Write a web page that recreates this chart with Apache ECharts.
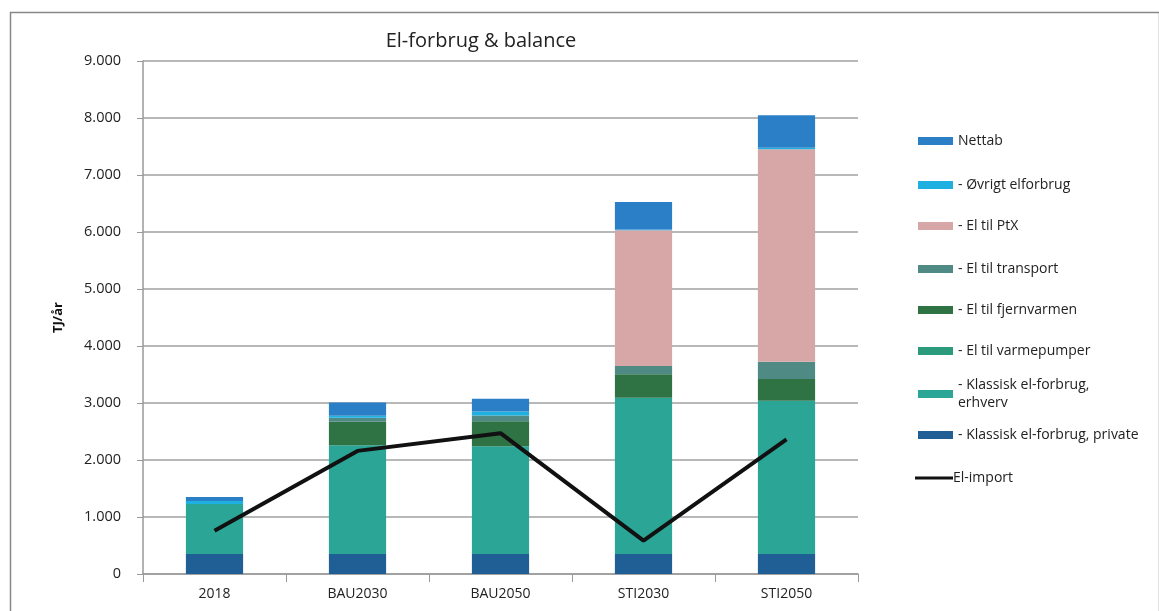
<!DOCTYPE html>
<html><head><meta charset="utf-8">
<script src="https://cdn.jsdelivr.net/npm/echarts@6/dist/echarts.min.js"></script>
<style>html,body{margin:0;padding:0;background:#fff}#c{width:1159px;height:611px}</style>
</head><body><div id="c"></div>
<script>
const categories = ['2018', 'BAU2030', 'BAU2050', 'STI2030', 'STI2050'];
const private_ = [350, 350, 350, 350, 350];
const erhverv = [880, 1910, 1890, 2740, 2690];
const varmepumper = [0, 0, 0, 0, 0];
const fjernvarme = [0, 410, 440, 415, 380];
const transport = [0, 70, 100, 145, 305];
const ptx = [0, 0, 0, 2380, 3725];
const oevrigt = [50, 35, 70, 15, 30];
const nettab = [70, 235, 225, 480, 570];
const elImport = [760, 2160, 2470, 585, 2360];
const yTicks = [0, 1000, 2000, 3000, 4000, 5000, 6000, 7000, 8000, 9000];

const FONT = 'Open Sans';
const names = {
  nettab: 'Nettab', oev: '- Øvrigt elforbrug', ptx: '- El til PtX', tr: '- El til transport',
  fj: '- El til fjernvarmen', vp: '- El til varmepumper', er: '- Klassisk el-forbrug,\nerhverv',
  pr: '- Klassisk el-forbrug, private', imp: 'El-import'
};
const colors = {
  nettab: '#2b7fc6', oev: '#1fb0e2', ptx: '#d6a7a6', tr: '#4f8a85',
  fj: '#2f7244', vp: '#2c9a7c', er: '#2aa596', pr: '#1f5f95'
};
function bar(key, data) {
  return { name: names[key], type: 'bar', stack: 'a', data: data, barWidth: '40%',
    itemStyle: { color: colors[key] }, emphasis: { disabled: true } };
}
const series = [
  bar('pr', private_), bar('er', erhverv), bar('vp', varmepumper), bar('fj', fjernvarme),
  bar('tr', transport), bar('ptx', ptx), bar('oev', oevrigt), bar('nettab', nettab),
  { name: names.imp, type: 'line', data: elImport, symbol: 'none', z: 5,
    lineStyle: { color: '#111', width: 4 }, itemStyle: { color: '#111' } }
];
const legendOrder = ['nettab', 'oev', 'ptx', 'tr', 'fj', 'vp', 'er', 'pr', 'imp'];
const legendY = [136, 180, 221, 264, 305, 346, 388, 430, 473];
const legends = legendOrder.map((k, i) => {
  const isLine = k === 'imp';
  const two = k === 'er';
  return {
    orient: 'vertical', left: isLine ? 910 : 913, top: legendY[i] - 9 - (two ? 17 : 0),
    data: [{ name: names[k], icon: 'rect' }],
    itemWidth: isLine ? 38 : 35, itemHeight: isLine ? 3 : 8, itemGap: 0,
    selectedMode: false,
    textStyle: { fontFamily: FONT, fontSize: 14, color: '#222', lineHeight: 18,
      padding: two ? [18, 0, 0, 0] : (isLine ? [0, 0, 0, -5] : [0, 0, 0, 0]) }
  };
});

const chart = echarts.init(document.getElementById('c'), null, { renderer: 'canvas' });
chart.setOption({
  animation: false,
  backgroundColor: '#fff',
  title: { text: 'El-forbrug & balance', left: 476, top: 26, textAlign: 'center',
    textStyle: { fontFamily: FONT, fontSize: 20, fontWeight: 'normal', color: '#222' } },
  legend: legends,
  grid: { left: 143, right: 301, top: 61, bottom: 37, containLabel: false },
  xAxis: { type: 'category', data: categories,
    axisLine: { lineStyle: { color: '#999', width: 1.5 } },
    axisTick: { show: true, length: 8, lineStyle: { color: '#999' } },
    axisLabel: { fontFamily: FONT, fontSize: 14, color: '#222', margin: 13 } },
  yAxis: { type: 'value', min: yTicks[0], max: yTicks[yTicks.length - 1], interval: 1000,
    name: 'TJ/år', nameLocation: 'middle', nameGap: 78, nameRotate: 90,
    nameTextStyle: { fontFamily: FONT, fontSize: 13, fontWeight: 'bold', color: '#111' },
    axisLine: { show: true, lineStyle: { color: '#999', width: 1.5 } },
    axisTick: { show: true, length: 6, lineStyle: { color: '#999' } },
    splitLine: { lineStyle: { color: '#a0a0a0', width: 1.5 } },
    axisLabel: { fontFamily: FONT, fontSize: 14.5, color: '#222', margin: 22,
      formatter: v => v === 0 ? '0' : (v / 1000).toFixed(0) + '.000' } },
  graphic: [{ type: 'rect', left: 8, top: 10, shape: { width: 1149, height: 610 },
    style: { fill: 'none', stroke: '#888', lineWidth: 1.5 }, silent: true, z: -1 }],
  series: series
});
</script></body></html>
